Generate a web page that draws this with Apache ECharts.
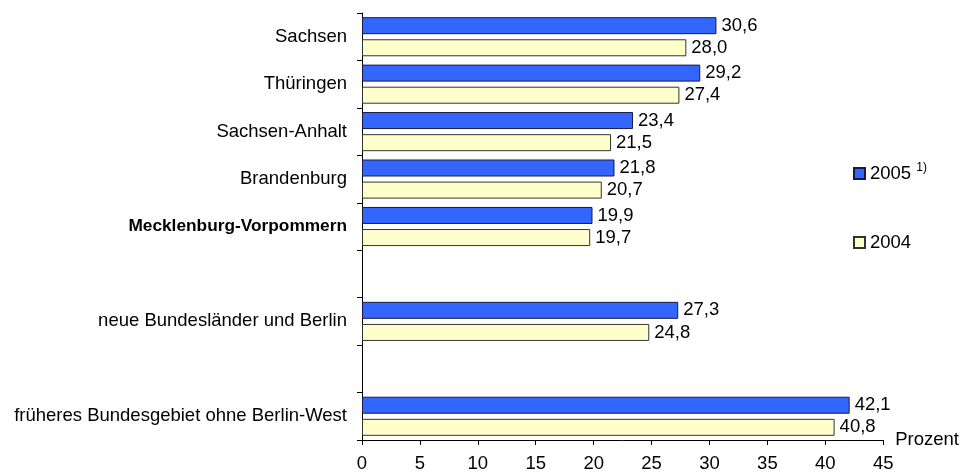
<!DOCTYPE html>
<html>
<head>
<meta charset="utf-8">
<script src="https://cdn.jsdelivr.net/npm/echarts@6/dist/echarts.min.js"></script>
<style>html,body{margin:0;padding:0;background:#fff}#c{width:962px;height:475px}</style>
</head>
<body>
<div id="c"></div>
<script>
const categories = ['Sachsen', 'Thüringen', 'Sachsen-Anhalt', 'Brandenburg', 'Mecklenburg-Vorpommern', ' ', 'neue Bundesländer und Berlin', '  ', 'früheres Bundesgebiet ohne Berlin-West'];
const values2005 = [30.6, 29.2, 23.4, 21.8, 19.9, null, 27.3, null, 42.1];
const values2004 = [28.0, 27.4, 21.5, 20.7, 19.7, null, 24.8, null, 40.8];
const xTicks = [0, 5, 10, 15, 20, 25, 30, 35, 40, 45];
const seriesNames = ['2005', '2004'];

const FONT = '"Liberation Sans", Arial, sans-serif';
const FS = 18.5;
const chart = echarts.init(document.getElementById('c'));
const fmt = v => v.toFixed(1).replace('.', ',');
const labelCfg = {
  show: true, position: 'right', distance: 5,
  color: '#000', fontFamily: FONT, fontSize: FS,
  formatter: p => fmt(p.value)
};
chart.setOption({
  animation: false,
  grid: { left: 362, right: 75, top: 13, bottom: 35, containLabel: false },
  legend: {
    orient: 'vertical', left: 848, top: 157, itemGap: 50,
    itemWidth: 11, itemHeight: 11, icon: 'rect',
    textStyle: {
      fontFamily: FONT, fontSize: FS, color: '#000',
      rich: {
        a: { fontFamily: FONT, fontSize: FS, color: '#000' },
        s: { fontFamily: FONT, fontSize: 12, color: '#000', verticalAlign: 'top', padding: [0, 0, 11, 0] }
      }
    },
    formatter: n => n === '2005' ? '{a|2005} {s|1)}' : '{a|' + n + '}',
    data: seriesNames
  },
  xAxis: {
    type: 'value', min: xTicks[0], max: xTicks[xTicks.length - 1], interval: 5,
    name: 'Prozent', nameLocation: 'end', nameGap: 12,
    nameTextStyle: { fontFamily: FONT, fontSize: FS, color: '#000', verticalAlign: 'middle' },
    axisLine: { show: true, lineStyle: { color: '#000', width: 1 } },
    axisTick: { show: true, length: 5, lineStyle: { color: '#000' } },
    axisLabel: { fontFamily: FONT, fontSize: FS, color: '#000', margin: 14 },
    splitLine: { show: false }
  },
  yAxis: {
    type: 'category', inverse: true, data: categories,
    axisLine: { show: true, lineStyle: { color: '#000', width: 1 } },
    axisTick: { show: true, length: 5, inside: false, lineStyle: { color: '#000' } },
    axisLabel: {
      fontFamily: FONT, fontSize: FS, color: '#000', margin: 15,
      formatter: v => v === 'Mecklenburg-Vorpommern' ? '{b|' + v + '}' : v,
      rich: { b: { fontFamily: FONT, fontSize: 17.3, fontWeight: 'bold', color: '#000' } }
    }
  },
  series: [
    {
      name: seriesNames[0], type: 'bar', data: values2005, barWidth: 17, barGap: '30%',
      itemStyle: { color: '#3366FF', borderColor: '#1a1a40', borderWidth: 1 },
      label: labelCfg
    },
    {
      name: seriesNames[1], type: 'bar', data: values2004, barWidth: 17, barGap: '30%',
      itemStyle: { color: '#FFFFCC', borderColor: '#333333', borderWidth: 1 },
      label: labelCfg
    }
  ]
});
</script>
</body>
</html>
